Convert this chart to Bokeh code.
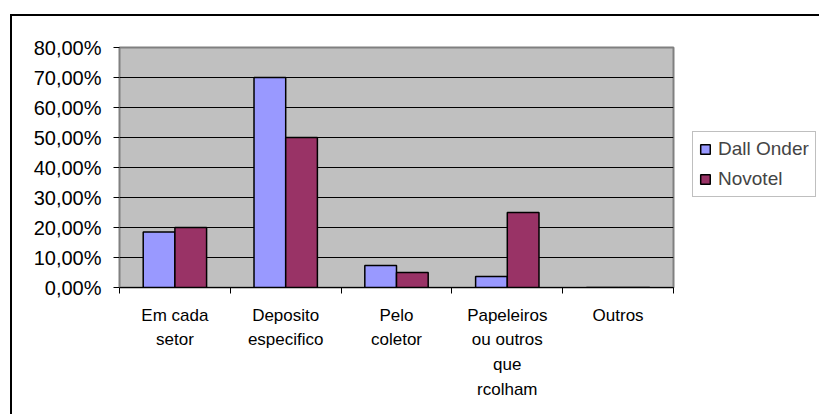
from bokeh.plotting import figure
from bokeh.models import (Range1d, FixedTicker, Legend, LegendItem,
                          ColumnDataSource, LinearAxis)
from bokeh.transform import dodge
from bokeh.embed import file_html
from bokeh.resources import INLINE

categories = ["Em cada\nsetor", "Deposito\nespecifico", "Pelo\ncoletor", "Papeleiros\nou outros\nque\nrcolham", "Outros"]
dall_onder = [0.185, 0.70, 0.073, 0.037, 0.0]
novotel = [0.20, 0.50, 0.05, 0.25, 0.0]
series_names = ["Dall Onder", "Novotel"]
y_ticks = [0.0, 0.1, 0.2, 0.3, 0.4, 0.5, 0.6, 0.7, 0.8]
y_tick_labels = ["0,00%", "10,00%", "20,00%", "30,00%", "40,00%", "50,00%", "60,00%", "70,00%", "80,00%"]

FONT = "Liberation Sans"

n = len(categories)
centers = [i + 0.5 for i in range(n)]
boundaries = list(range(n + 1))
src = ColumnDataSource(dict(x=centers, a=dall_onder, b=novotel))

p = figure(x_range=Range1d(0, n), y_range=Range1d(0, 0.8),
           frame_width=554, frame_height=240, output_backend="svg", toolbar_location=None,
           x_axis_location=None,
           min_border_left=107, min_border_right=146, min_border_top=31, min_border_bottom=127)
p.margin = (14, 0, 0, 10)
p.styles = {"border-top": "2px solid #000", "border-left": "2px solid #000"}
p.background_fill_color = "#C0C0C0"
p.border_fill_color = "white"
p.outline_line_color = "#808080"
p.outline_line_width = 2

w = 0.286
r1 = p.vbar(x=dodge("x", -w / 2), top="a", width=w, source=src,
            fill_color="#9999FF", line_color="black", line_width=1.5)
r2 = p.vbar(x=dodge("x", w / 2), top="b", width=w, source=src,
            fill_color="#993366", line_color="black", line_width=1.5)

p.ygrid.grid_line_color = "black"
p.ygrid.grid_line_width = 1
p.ygrid.ticker = FixedTicker(ticks=y_ticks)

ya = p.yaxis[0]
ya.ticker = FixedTicker(ticks=y_ticks)
ya.major_label_overrides = {t: l for t, l in zip(y_ticks, y_tick_labels)}
ya.major_label_text_font = FONT
ya.major_label_text_font_size = "20px"
ya.major_label_text_color = "black"
ya.axis_line_color = "#808080"
ya.major_tick_line_color = "black"
ya.major_tick_out = 6
ya.major_tick_in = 0
ya.minor_tick_line_color = None
ya.major_label_standoff = 12

# tick-only axis at category boundaries
tick_axis = LinearAxis(ticker=FixedTicker(ticks=boundaries))
tick_axis.major_label_overrides = {t: "" for t in boundaries}
tick_axis.major_label_text_font_size = "1px"
tick_axis.major_label_standoff = 0
tick_axis.axis_line_color = "black"
tick_axis.major_tick_line_color = "black"
tick_axis.major_tick_out = 6
tick_axis.major_tick_in = 0
tick_axis.minor_tick_line_color = None
p.add_layout(tick_axis, "below")

xa = LinearAxis(ticker=FixedTicker(ticks=centers))
xa.major_label_overrides = {c: l for c, l in zip(centers, categories)}
xa.major_label_text_font = FONT
xa.major_label_text_font_size = "17px"
xa.major_label_text_line_height = 1.3
xa.major_label_text_color = "black"
xa.axis_line_color = None
xa.major_tick_line_color = None
xa.minor_tick_line_color = None
xa.major_label_standoff = 6
p.add_layout(xa, "below")
p.xgrid.grid_line_color = None

legend = Legend(items=[LegendItem(label=series_names[0], renderers=[r1]),
                       LegendItem(label=series_names[1], renderers=[r2])],
                location=(19, 90))
legend.margin = 0
legend.label_text_font = FONT
legend.label_text_font_size = "19px"
legend.glyph_width = 12
legend.glyph_height = 12
legend.label_height = 22
legend.label_standoff = 7
legend.padding = 6
legend.spacing = 8
legend.border_line_color = "#808080"
legend.border_line_width = 1.5
legend.background_fill_color = "white"
legend.background_fill_alpha = 1
p.add_layout(legend, "right")

open("out.html", "w").write(file_html(p, INLINE))
